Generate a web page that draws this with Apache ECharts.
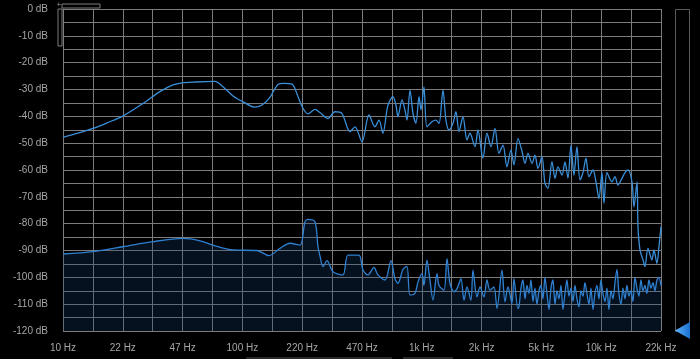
<!DOCTYPE html>
<html><head><meta charset="utf-8">
<script src="https://cdn.jsdelivr.net/npm/echarts@6/dist/echarts.min.js"></script>
<style>html,body{margin:0;padding:0;background:#000;}#c{width:700px;height:359px;}</style>
</head><body><div id="c"></div>
<script>
// ---- axis definitions ----
const F_MIN = 10, F_MAX = 22000, COLUMNS = 20;
const xTickLabels = ['10 Hz','22 Hz','47 Hz','100 Hz','220 Hz','470 Hz','1k Hz','2k Hz','5k Hz','10k Hz','22k Hz'];
const yTickLabels = ['0 dB','-10 dB','-20 dB','-30 dB','-40 dB','-50 dB','-60 dB','-70 dB','-80 dB','-90 dB','-100 dB','-110 dB','-120 dB'];

// ---- upper spectrum (Hz / dB) ----
const upperHz = [10,12.1,14.7,17.8,21.6,28.0,34.8,41.2,46.3,54.7,70.7,78.4,89.2,101,118,129.5,143.5,159,172,190.5,206,219.5,234,256,273,303,331,362,402,428.5,469,513,554,584,614,655,699,726,745,785,815,837,870,904,939,977,1002,1041,1082,1154,1215,1264,1330,1382,1437,1512,1572,1634,1720,1811,1882,2008,2086,2225,2343,2467,2597,2734,2879,3030,3190,3316,3491,3677,3821,3972,4181,4345,4517,4754,4941,5136,5408,5622,5843,6151,6393,6644,6906,7177,7459,7753,8058,8375,8704,9167,9526,9901,10290,10560,10975,11707,12167,12645,13316,13836,14380,15143,15538,16152,16360,16786,17443,17890,18600,19580,20100,20880,21430,22000];
const upperDb = [-47.8,-46.3,-44.5,-42.3,-39.9,-35.2,-30.8,-28.3,-27.5,-27.2,-27.0,-29.0,-32.4,-34.5,-36.6,-35.8,-32.9,-28.1,-27.7,-28.0,-32.7,-37.0,-39.1,-37.4,-38.6,-40.8,-38.3,-38.9,-45.7,-43.9,-49.5,-39.5,-43.9,-41.4,-46.3,-35.8,-32.7,-35.8,-40.1,-33.9,-37.6,-41.4,-30.2,-38.9,-42.6,-32.7,-37.6,-29.0,-43.9,-42.0,-41.4,-42.6,-30.2,-41.4,-45.1,-42.6,-38.3,-45.7,-40.1,-48.8,-46.3,-51.3,-45.1,-55.6,-46.3,-51.3,-44.5,-53.8,-50.7,-58.8,-52.6,-58.1,-48.2,-53.0,-57.5,-53.8,-57.5,-54.5,-59.4,-55.0,-65.0,-66.8,-56.9,-63.1,-58.8,-61.9,-57.0,-63.0,-50.7,-61.9,-51.3,-63.7,-61.0,-55.6,-62.5,-60.0,-64.4,-70.6,-61.0,-72.4,-61.0,-64.4,-62.5,-65.6,-63.1,-61.0,-60.0,-64.4,-73.7,-64.4,-81.1,-89.8,-93.5,-96.0,-89.2,-93.5,-89.8,-94.8,-88.6,-81.1];

// ---- lower spectrum (Hz / dB) ----
const lowerHz = [10,14.7,21.6,31.8,46.8,58.3,68.8,89.2,121.4,141.7,163.2,185.7,211.2,225.2,234,256,266.2,273,284,299,322.8,367,391.6,451,475,506.7,547,576,630.5,681,717,745,795,837,870,927,964,1015,1041,1082,1125,1169,1231,1264,1347,1400,1455,1532,1593,1677,1743,1811,1906,1956,2060,2141,2254,2343,2435,2564,2665,2842,2954,3070,3232,3316,3491,
  3537,3629,3724,3821,3920,4022,4127,4235,4345,4458,4575,4694,4816,4942,5071,5203,5338,5478,5620,5767,5917,6071,6229,6392,6558,6729,6905,7085,7269,7459,7653,7853,8057,8267,8483,8704,8931,9164,9403,9648,9899,10157,10422,10694,10973,11259,11552,11853,12162,12479,12805,13139,13481,13833,14193,14563,14943,15333,15732,16143,16564,16995,17438,17893,18360,18838,19329,19833,20350,20881,21425,22000];
const lowerDb = [-91.3,-90.4,-88.6,-86.7,-85.5,-86.4,-88.0,-89.8,-90.0,-91.9,-89.2,-87.3,-88.0,-79.3,-78.4,-79.3,-88.6,-92.0,-96.0,-93.8,-97.9,-99.1,-91.7,-91.7,-97.3,-99.1,-96.3,-99.1,-101.0,-93.8,-100.5,-102.2,-97.0,-95.9,-106.6,-106.0,-101.7,-98.6,-103.0,-93.6,-101.0,-108.5,-98.6,-103.0,-104.8,-93.0,-102.2,-105.4,-104.2,-100.5,-108.5,-103.6,-108.5,-97.3,-107.3,-103.6,-107.3,-101.0,-104.8,-103.6,-111.6,-97.3,-109.1,-103.6,-109.7,-100.5,-111.6,
  -111,-104,-101,-108,-103,-106,-101,-109,-104,-110,-105,-103,-108,-100,-106,-112,-104,-101,-110,-105,-108,-103,-112,-106,-101,-107,-104,-109,-103,-108,-111,-105,-107,-102,-106,-110,-104,-112,-106,-103,-108,-101,-106,-109,-104,-112,-105,-108,-102,-97,-106,-110,-104,-108,-103,-107,-105,-109,-100,-104,-107,-101,-105,-103,-106,-101,-104,-102,-105,-101,-100,-103];

const toCol = f => COLUMNS * Math.log10(f / F_MIN) / Math.log10(F_MAX / F_MIN);
const pairs = (hz, db) => hz.map((f, i) => [toCol(f), db[i]]);

const chart = echarts.init(document.getElementById('c'), null, {renderer: 'canvas'});
const gridColor = '#7c7c7c';
chart.setOption({
  backgroundColor: '#000',
  animation: false,
  grid: {left: 63, right: 39, top: 9, bottom: 28, show: false},
  xAxis: {
    type: 'value', min: 0, max: COLUMNS, interval: 1,
    axisLine: {show: true, lineStyle: {color: gridColor}},
    axisTick: {show: false},
    splitLine: {show: true, lineStyle: {color: gridColor, width: 1}},
    axisLabel: {
      color: '#a6a6a6', fontSize: 10, fontFamily: 'Liberation Sans, Arial, sans-serif', margin: 12,
      showMinLabel: true, showMaxLabel: true,
      formatter: v => (Math.round(v) % 2 === 0) ? xTickLabels[Math.round(v) / 2] : ''
    }
  },
  yAxis: {
    type: 'value', min: -120, max: 0, interval: 5,
    axisLine: {show: true, lineStyle: {color: gridColor}},
    axisTick: {show: false},
    splitLine: {show: true, lineStyle: {color: gridColor, width: 1}},
    axisLabel: {
      color: '#a6a6a6', fontSize: 10, fontFamily: 'Liberation Sans, Arial, sans-serif', margin: 15,
      showMinLabel: true, showMaxLabel: true,
      formatter: v => (Math.round(v) % 10 === 0) ? yTickLabels[Math.round(-v) / 10] : ''
    }
  },
  series: [
    {
      type: 'line', data: pairs(lowerHz, lowerDb), showSymbol: false, smooth: 0.3,
      lineStyle: {color: '#2f80d0', width: 1.3},
      areaStyle: {origin: 'start', color: 'rgba(22,62,115,0.38)'},
      z: 2
    },
    {
      type: 'line', data: pairs(upperHz, upperDb), showSymbol: false, smooth: 0.3,
      lineStyle: {color: '#3a8fd9', width: 1.3},
      z: 3
    }
  ],
  graphic: [
    {type: 'rect', shape: {x: 62, y: 4, width: 38, height: 4}, style: {fill: 'none', stroke: '#7d7d7d', lineWidth: 1}},
    {type: 'rect', shape: {x: 58, y: 9, width: 4, height: 37}, style: {fill: 'none', stroke: '#7d7d7d', lineWidth: 1}},
    {type: 'text', style: {text: '+', x: 56.5, y: 1, fill: '#9a9a9a', fontSize: 8, fontFamily: 'Liberation Sans'}},
    {type: 'rect', shape: {x: 675.5, y: 9.5, width: 14, height: 322}, style: {fill: 'none', stroke: '#5a5a5a', lineWidth: 1}},
    {type: 'polygon', shape: {points: [[690, 322], [690, 339], [675, 330.5]]},
      style: {fill: new echarts.graphic.LinearGradient(0, 0, 1, 0, [{offset: 0, color: '#5fb4ff'}, {offset: 1, color: '#1a6fd0'}])}},
    {type: 'rect', shape: {x: 246, y: 357, width: 146, height: 2}, style: {fill: '#2a2a2a'}},
    {type: 'rect', shape: {x: 403, y: 357, width: 50, height: 2}, style: {fill: '#2a2a2a'}}
  ]
});
</script></body></html>
